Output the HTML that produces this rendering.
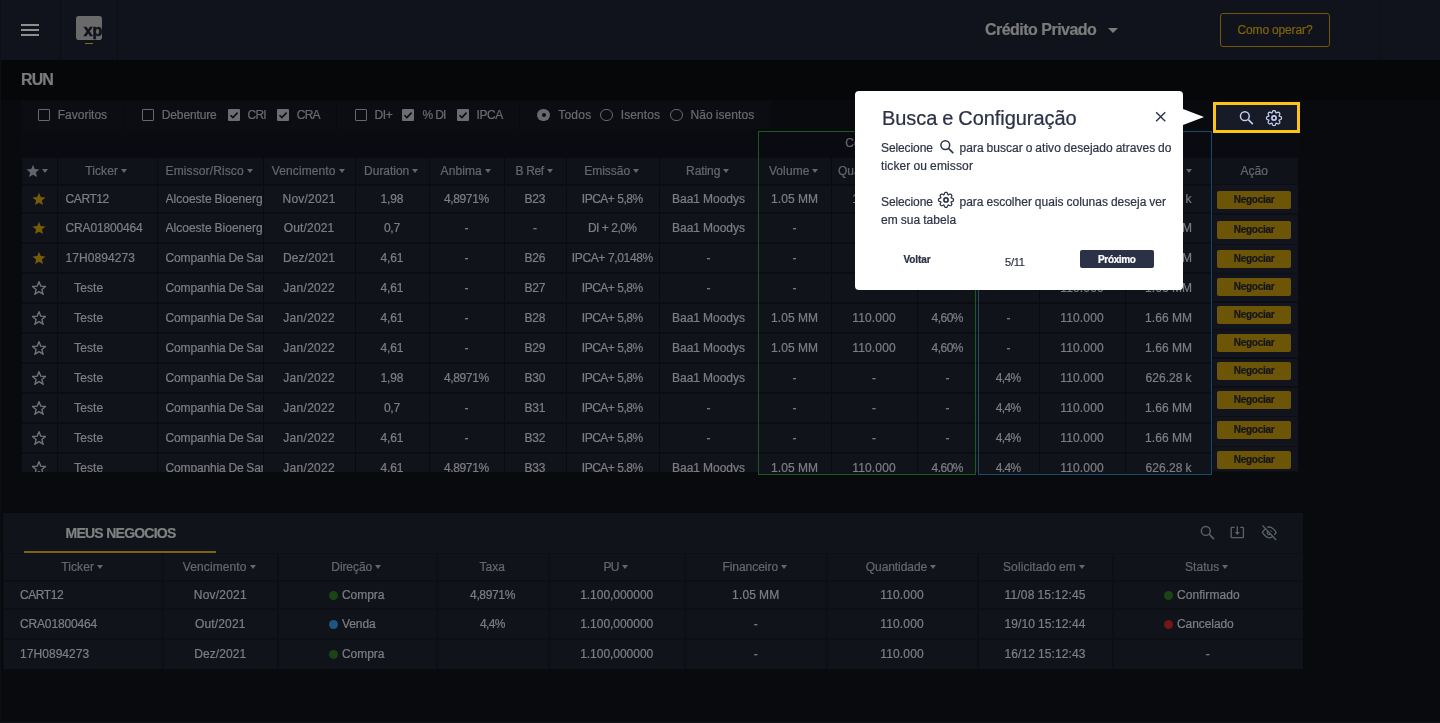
<!DOCTYPE html>
<html lang="pt-BR"><head><meta charset="utf-8"><title>RUN - Crédito Privado</title><style>
html,body{margin:0;padding:0}
body{width:1440px;height:723px;overflow:hidden;position:relative;background:#090a0d;font-family:"Liberation Sans",sans-serif;}
.b{position:absolute;display:block}
.t{position:absolute;white-space:nowrap;overflow:visible;-webkit-text-stroke:0.22px currentColor}
</style></head><body>
<div class="b" style="left:0px;top:0px;width:1440px;height:60px;background:#10131b;"></div>
<div class="b" style="left:60px;top:0px;width:1px;height:60px;background:#0c0e14;"></div>
<div class="b" style="left:117px;top:0px;width:1px;height:60px;background:#0c0e14;"></div>
<div class="b" style="left:1379px;top:0px;width:1px;height:60px;background:#0d0f15;"></div>
<div class="b" style="left:21px;top:24px;width:18px;height:2px;background:#8f8f8f;"></div>
<div class="b" style="left:21px;top:29px;width:18px;height:2px;background:#8f8f8f;"></div>
<div class="b" style="left:21px;top:34px;width:18px;height:2px;background:#8f8f8f;"></div>
<div class="b" style="left:76.2px;top:15.8px;width:25.7px;height:24.3px;background:#6a6a6a;border-radius:2.8px;overflow:hidden;"></div>
<div class="t" style="left:83.8px;top:20.9px;height:20px;line-height:20px;font-size:16px;font-weight:700;letter-spacing:-0.2px;color:#10131b;-webkit-text-stroke:0.6px #10131b;">xp</div>
<div class="b" style="left:85px;top:43px;width:7.5px;height:1.1px;background:#8a6a0a;"></div>
<div class="t " style="left:985px;top:18px;width:120px;height:24px;line-height:24px;font-size:16px;color:#7c7c7c;letter-spacing:-0.525px;word-spacing:0.064px;text-align:left;font-weight:700;">Crédito Privado</div>
<div class="b" style="left:1108.2px;top:27.8px;border-left:5px solid transparent;border-right:5px solid transparent;border-top:5.2px solid #7c7c7c;width:0;height:0"></div>
<div class="b" style="left:1220px;top:13px;width:110px;height:34px;background:transparent;border:1.4px solid #70570a;border-radius:3px;box-sizing:border-box;"></div>
<div class="t " style="left:1220px;top:13px;width:110px;height:34px;line-height:34px;font-size:12px;color:#7f6309;letter-spacing:-0.119px;word-spacing:-0.239px;text-align:center;text-indent:-0.119px;">Como operar?</div>
<div class="b" style="left:0px;top:60px;width:1440px;height:40px;background:#060709;"></div>
<div class="t " style="left:21px;top:68px;width:60px;height:24px;line-height:24px;font-size:16px;color:#7c7c7c;letter-spacing:-0.872px;word-spacing:0.000px;text-align:left;font-weight:700;">RUN</div>
<div class="b" style="left:22px;top:101px;width:749.5px;height:27.5px;background:#0b0d12;"></div>
<div class="b" style="left:123px;top:101px;width:1px;height:27.5px;background:#090a0f;"></div>
<div class="b" style="left:336px;top:101px;width:1px;height:27.5px;background:#090a0f;"></div>
<div class="b" style="left:519px;top:101px;width:1px;height:27.5px;background:#090a0f;"></div>
<div class="b" style="left:771px;top:101px;width:1px;height:27.5px;background:#090a0f;"></div>
<div class="b" style="left:37.5px;top:109px;width:12px;height:12px;background:transparent;border:1.5px solid #67686c;border-radius:1px;box-sizing:border-box;"></div>
<div class="t " style="left:57.8px;top:103px;width:60px;height:24px;line-height:24px;font-size:12px;color:#696a6e;letter-spacing:-0.009px;word-spacing:0.000px;text-align:left;">Favoritos</div>
<div class="b" style="left:141.5px;top:109px;width:12px;height:12px;background:transparent;border:1.5px solid #67686c;border-radius:1px;box-sizing:border-box;"></div>
<div class="t " style="left:161.8px;top:103px;width:70px;height:24px;line-height:24px;font-size:12px;color:#696a6e;letter-spacing:-0.135px;word-spacing:0.000px;text-align:left;">Debenture</div>
<svg class="b" style="left:227.5px;top:109px" width="12" height="12" viewBox="0 0 12 12"><rect width="12" height="12" rx="1" fill="#6c6d70"/><path d="M2.5 6.2 L4.9 8.6 L9.6 3.6" fill="none" stroke="#0b0d12" stroke-width="1.6"/></svg>
<div class="t " style="left:247.5px;top:103px;width:30px;height:24px;line-height:24px;font-size:12px;color:#696a6e;letter-spacing:-0.733px;word-spacing:0.000px;text-align:left;">CRI</div>
<svg class="b" style="left:276.5px;top:109px" width="12" height="12" viewBox="0 0 12 12"><rect width="12" height="12" rx="1" fill="#6c6d70"/><path d="M2.5 6.2 L4.9 8.6 L9.6 3.6" fill="none" stroke="#0b0d12" stroke-width="1.6"/></svg>
<div class="t " style="left:296.8px;top:103px;width:30px;height:24px;line-height:24px;font-size:12px;color:#696a6e;letter-spacing:-0.768px;word-spacing:0.000px;text-align:left;">CRA</div>
<div class="b" style="left:354.5px;top:109px;width:12px;height:12px;background:transparent;border:1.5px solid #67686c;border-radius:1px;box-sizing:border-box;"></div>
<div class="t " style="left:374.5px;top:103px;width:30px;height:24px;line-height:24px;font-size:12px;color:#696a6e;letter-spacing:-0.354px;word-spacing:0.000px;text-align:left;">DI+</div>
<svg class="b" style="left:402.3px;top:109px" width="12" height="12" viewBox="0 0 12 12"><rect width="12" height="12" rx="1" fill="#6c6d70"/><path d="M2.5 6.2 L4.9 8.6 L9.6 3.6" fill="none" stroke="#0b0d12" stroke-width="1.6"/></svg>
<div class="t " style="left:422.5px;top:103px;width:30px;height:24px;line-height:24px;font-size:12px;color:#696a6e;letter-spacing:-0.914px;word-spacing:0.557px;text-align:left;">% DI</div>
<svg class="b" style="left:456.5px;top:109px" width="12" height="12" viewBox="0 0 12 12"><rect width="12" height="12" rx="1" fill="#6c6d70"/><path d="M2.5 6.2 L4.9 8.6 L9.6 3.6" fill="none" stroke="#0b0d12" stroke-width="1.6"/></svg>
<div class="t " style="left:476.5px;top:103px;width:40px;height:24px;line-height:24px;font-size:12px;color:#696a6e;letter-spacing:-0.384px;word-spacing:0.000px;text-align:left;">IPCA</div>
<div class="b" style="left:537.4px;top:108.8px;width:12.5px;height:12.5px;background:#68696d;border-radius:50%;"></div>
<div class="b" style="left:541.55px;top:112.95px;width:4.2px;height:4.2px;background:#0b0d12;border-radius:50%;"></div>
<div class="t " style="left:558.2px;top:103px;width:40px;height:24px;line-height:24px;font-size:12px;color:#696a6e;letter-spacing:0.241px;word-spacing:0.000px;text-align:left;">Todos</div>
<div class="b" style="left:600.4px;top:108.8px;width:12.5px;height:12.5px;background:transparent;border:1.3px solid #68696d;border-radius:50%;box-sizing:border-box;"></div>
<div class="t " style="left:620.8px;top:103px;width:50px;height:24px;line-height:24px;font-size:12px;color:#696a6e;letter-spacing:0.086px;word-spacing:0.000px;text-align:left;">Isentos</div>
<div class="b" style="left:670.4px;top:108.8px;width:12.5px;height:12.5px;background:transparent;border:1.3px solid #68696d;border-radius:50%;box-sizing:border-box;"></div>
<div class="t " style="left:690.5px;top:103px;width:80px;height:24px;line-height:24px;font-size:12px;color:#696a6e;letter-spacing:0.084px;word-spacing:-0.442px;text-align:left;">Não isentos</div>
<div class="b" style="left:22px;top:128.5px;width:1190px;height:29px;background:#0a0b10;"></div>
<div class="t " style="left:758px;top:131px;width:217px;height:24px;line-height:24px;font-size:12px;color:#65676c;letter-spacing:-0.068px;word-spacing:0.000px;text-align:center;text-indent:-0.068px;">Compra</div>
<div class="t " style="left:978px;top:131px;width:234px;height:24px;line-height:24px;font-size:12px;color:#65676c;letter-spacing:-0.074px;word-spacing:0.000px;text-align:center;text-indent:-0.074px;">Venda</div>
<div class="b" style="left:22px;top:157.5px;width:1190px;height:314.7px;background:#10131a;overflow:hidden">
<div class="b" style="left:0;top:0;width:1190px;height:26.5px;background:#0f1219"></div>
<div class="b" style="left:35px;top:0;width:1px;height:400px;background:#0a0b10"></div>
<div class="b" style="left:135px;top:0;width:1px;height:400px;background:#0a0b10"></div>
<div class="b" style="left:241px;top:0;width:1px;height:400px;background:#0a0b10"></div>
<div class="b" style="left:333px;top:0;width:1px;height:400px;background:#0a0b10"></div>
<div class="b" style="left:407px;top:0;width:1px;height:400px;background:#0a0b10"></div>
<div class="b" style="left:482px;top:0;width:1px;height:400px;background:#0a0b10"></div>
<div class="b" style="left:544px;top:0;width:1px;height:400px;background:#0a0b10"></div>
<div class="b" style="left:637px;top:0;width:1px;height:400px;background:#0a0b10"></div>
<div class="b" style="left:736px;top:0;width:1px;height:400px;background:#0a0b10"></div>
<div class="b" style="left:809px;top:0;width:1px;height:400px;background:#0a0b10"></div>
<div class="b" style="left:895px;top:0;width:1px;height:400px;background:#0a0b10"></div>
<div class="b" style="left:956px;top:0;width:1px;height:400px;background:#0a0b10"></div>
<div class="b" style="left:1017px;top:0;width:1px;height:400px;background:#0a0b10"></div>
<div class="b" style="left:1103px;top:0;width:1px;height:400px;background:#0a0b10"></div>
<div class="b" style="left:0;top:26.5px;width:1190px;height:2px;background:#0b0d12"></div>
<div class="b" style="left:0;top:54.5px;width:1190px;height:2px;background:#0b0d12"></div>
<div class="b" style="left:0;top:84.5px;width:1190px;height:2px;background:#0b0d12"></div>
<div class="b" style="left:0;top:114.5px;width:1190px;height:2px;background:#0b0d12"></div>
<div class="b" style="left:0;top:144.5px;width:1190px;height:2px;background:#0b0d12"></div>
<div class="b" style="left:0;top:174.5px;width:1190px;height:2px;background:#0b0d12"></div>
<div class="b" style="left:0;top:204.5px;width:1190px;height:2px;background:#0b0d12"></div>
<div class="b" style="left:0;top:234.5px;width:1190px;height:2px;background:#0b0d12"></div>
<div class="b" style="left:0;top:264.5px;width:1190px;height:2px;background:#0b0d12"></div>
<div class="b" style="left:0;top:294.5px;width:1190px;height:2px;background:#0b0d12"></div>
</div>
<div class="t " style="left:85.3px;top:159px;width:36.75390625px;height:24px;line-height:24px;font-size:12px;color:#65676c;letter-spacing:0.089px;word-spacing:0.000px;text-align:left;">Ticker</div>
<div class="b" style="left:121.0px;top:169.3px;border-left:3.9px solid transparent;border-right:3.9px solid transparent;border-top:4.1px solid #65676c;width:0;height:0"></div>
<div class="t " style="left:165.6px;top:159px;width:82.1421875px;height:24px;line-height:24px;font-size:12px;color:#65676c;letter-spacing:0.113px;word-spacing:0.000px;text-align:left;">Emissor/Risco</div>
<div class="b" style="left:246.7px;top:169.3px;border-left:3.9px solid transparent;border-right:3.9px solid transparent;border-top:4.1px solid #65676c;width:0;height:0"></div>
<div class="t " style="left:271.8px;top:159px;width:67.7390625px;height:24px;line-height:24px;font-size:12px;color:#65676c;letter-spacing:0.103px;word-spacing:0.000px;text-align:left;">Vencimento</div>
<div class="b" style="left:338.5px;top:169.3px;border-left:3.9px solid transparent;border-right:3.9px solid transparent;border-top:4.1px solid #65676c;width:0;height:0"></div>
<div class="t " style="left:364.1px;top:159px;width:49.16484375px;height:24px;line-height:24px;font-size:12px;color:#65676c;letter-spacing:-0.024px;word-spacing:0.000px;text-align:left;">Duration</div>
<div class="b" style="left:412.2px;top:169.3px;border-left:3.9px solid transparent;border-right:3.9px solid transparent;border-top:4.1px solid #65676c;width:0;height:0"></div>
<div class="t " style="left:440.6px;top:159px;width:45.1625px;height:24px;line-height:24px;font-size:12px;color:#65676c;letter-spacing:0.079px;word-spacing:0.000px;text-align:left;">Anbima</div>
<div class="b" style="left:484.7px;top:169.3px;border-left:3.9px solid transparent;border-right:3.9px solid transparent;border-top:4.1px solid #65676c;width:0;height:0"></div>
<div class="t " style="left:515.5px;top:159px;width:32.3828125px;height:24px;line-height:24px;font-size:12px;color:#65676c;letter-spacing:-0.318px;word-spacing:-0.040px;text-align:left;">B Ref</div>
<div class="b" style="left:546.8px;top:169.3px;border-left:3.9px solid transparent;border-right:3.9px solid transparent;border-top:4.1px solid #65676c;width:0;height:0"></div>
<div class="t " style="left:584.2px;top:159px;width:50.0203125px;height:24px;line-height:24px;font-size:12px;color:#65676c;letter-spacing:0.001px;word-spacing:0.000px;text-align:left;">Emissão</div>
<div class="b" style="left:633.1px;top:169.3px;border-left:3.9px solid transparent;border-right:3.9px solid transparent;border-top:4.1px solid #65676c;width:0;height:0"></div>
<div class="t " style="left:686.1px;top:159px;width:38.13125px;height:24px;line-height:24px;font-size:12px;color:#65676c;letter-spacing:-0.093px;word-spacing:0.000px;text-align:left;">Rating</div>
<div class="b" style="left:723.2px;top:169.3px;border-left:3.9px solid transparent;border-right:3.9px solid transparent;border-top:4.1px solid #65676c;width:0;height:0"></div>
<div class="t " style="left:768.9px;top:159px;width:44.63515625px;height:24px;line-height:24px;font-size:12px;color:#65676c;letter-spacing:0.101px;word-spacing:0.000px;text-align:left;">Volume</div>
<div class="b" style="left:812.4px;top:169.3px;border-left:3.9px solid transparent;border-right:3.9px solid transparent;border-top:4.1px solid #65676c;width:0;height:0"></div>
<div class="t " style="left:838.1px;top:159px;width:65.296875px;height:24px;line-height:24px;font-size:12px;color:#65676c;letter-spacing:-0.076px;word-spacing:0.000px;text-align:left;">Quantidade</div>
<div class="b" style="left:902.2px;top:169.3px;border-left:3.9px solid transparent;border-right:3.9px solid transparent;border-top:4.1px solid #65676c;width:0;height:0"></div>
<div class="t " style="left:929.4px;top:159px;width:29.50625px;height:24px;line-height:24px;font-size:12px;color:#65676c;letter-spacing:0.039px;word-spacing:0.000px;text-align:left;">Taxa</div>
<div class="b" style="left:957.9px;top:169.3px;border-left:3.9px solid transparent;border-right:3.9px solid transparent;border-top:4.1px solid #65676c;width:0;height:0"></div>
<div class="t " style="left:990.4px;top:159px;width:29.50625px;height:24px;line-height:24px;font-size:12px;color:#65676c;letter-spacing:0.039px;word-spacing:0.000px;text-align:left;">Taxa</div>
<div class="b" style="left:1018.9px;top:169.3px;border-left:3.9px solid transparent;border-right:3.9px solid transparent;border-top:4.1px solid #65676c;width:0;height:0"></div>
<div class="t " style="left:1046.1px;top:159px;width:65.296875px;height:24px;line-height:24px;font-size:12px;color:#65676c;letter-spacing:-0.076px;word-spacing:0.000px;text-align:left;">Quantidade</div>
<div class="b" style="left:1110.2px;top:169.3px;border-left:3.9px solid transparent;border-right:3.9px solid transparent;border-top:4.1px solid #65676c;width:0;height:0"></div>
<div class="t " style="left:1142.9px;top:159px;width:44.63515625px;height:24px;line-height:24px;font-size:12px;color:#65676c;letter-spacing:0.101px;word-spacing:0.000px;text-align:left;">Volume</div>
<div class="b" style="left:1186.4px;top:169.3px;border-left:3.9px solid transparent;border-right:3.9px solid transparent;border-top:4.1px solid #65676c;width:0;height:0"></div>
<svg class="b" style="left:25.9px;top:164.39999999999998px" width="14.0" height="14.0" viewBox="-0.3 -0.3 12.6 12.6"><path d="M6 0.4 L7.6 4.3 L11.8 4.6 L8.6 7.4 L9.6 11.5 L6 9.3 L2.4 11.5 L3.4 7.4 L0.2 4.6 L4.4 4.3 Z" fill="#626468"/></svg>
<div class="b" style="left:42.0px;top:169.3px;border-left:3.9px solid transparent;border-right:3.9px solid transparent;border-top:4.1px solid #65676c;width:0;height:0"></div>
<div class="b" style="left:0;top:0;width:1440px;height:472.4px;overflow:hidden">
<svg class="b" style="left:31.599999999999998px;top:191.89999999999998px" width="14.0" height="14.0" viewBox="-0.3 -0.3 12.6 12.6"><path d="M6 0.4 L7.6 4.3 L11.8 4.6 L8.6 7.4 L9.6 11.5 L6 9.3 L2.4 11.5 L3.4 7.4 L0.2 4.6 L4.4 4.3 Z" fill="#765b07"/></svg>
<div class="t " style="left:65.6px;top:187px;width:91px;height:24px;line-height:24px;font-size:12px;color:#7d7e82;letter-spacing:-0.431px;word-spacing:0.000px;text-align:left;">CART12</div>
<div class="t " style="left:165.6px;top:187px;width:97px;height:24px;line-height:24px;font-size:12px;color:#7d7e82;letter-spacing:-0.004px;word-spacing:-0.354px;text-align:left;overflow:hidden;white-space:nowrap;">Alcoeste Bioenerg</div>
<div class="t " style="left:263px;top:187px;width:92px;height:24px;line-height:24px;font-size:12px;color:#7d7e82;letter-spacing:0.211px;word-spacing:0.000px;text-align:center;text-indent:0.211px;">Nov/2021</div>
<div class="t " style="left:355px;top:187px;width:74px;height:24px;line-height:24px;font-size:12px;color:#7d7e82;letter-spacing:-0.190px;word-spacing:0.000px;text-align:center;text-indent:-0.190px;">1,98</div>
<div class="t " style="left:429px;top:187px;width:75px;height:24px;line-height:24px;font-size:12px;color:#7d7e82;letter-spacing:-0.357px;word-spacing:0.000px;text-align:center;text-indent:-0.357px;">4,8971%</div>
<div class="t " style="left:504px;top:187px;width:62px;height:24px;line-height:24px;font-size:12px;color:#7d7e82;letter-spacing:-0.129px;word-spacing:0.000px;text-align:center;text-indent:-0.129px;">B23</div>
<div class="t " style="left:566px;top:187px;width:93px;height:24px;line-height:24px;font-size:12px;color:#7d7e82;letter-spacing:-0.494px;word-spacing:0.136px;text-align:center;text-indent:-0.494px;">IPCA+ 5,8%</div>
<div class="t " style="left:659px;top:187px;width:99px;height:24px;line-height:24px;font-size:12px;color:#7d7e82;letter-spacing:0.003px;word-spacing:-0.361px;text-align:center;text-indent:0.003px;">Baa1 Moodys</div>
<div class="t " style="left:758px;top:187px;width:73px;height:24px;line-height:24px;font-size:12px;color:#7d7e82;letter-spacing:0.167px;word-spacing:-0.525px;text-align:center;text-indent:0.167px;">1.05 MM</div>
<div class="t " style="left:831px;top:187px;width:86px;height:24px;line-height:24px;font-size:12px;color:#7d7e82;letter-spacing:0.163px;word-spacing:0.000px;text-align:center;text-indent:0.163px;">110.000</div>
<div class="t " style="left:917px;top:187px;width:61px;height:24px;line-height:24px;font-size:12px;color:#7d7e82;letter-spacing:-0.529px;word-spacing:0.000px;text-align:center;text-indent:-0.529px;">4,60%</div>
<div class="t " style="left:978px;top:187px;width:61px;height:24px;line-height:24px;font-size:12px;color:#7d7e82;letter-spacing:-0.678px;word-spacing:0.000px;text-align:center;text-indent:-0.678px;">4,4%</div>
<div class="t " style="left:1039px;top:187px;width:86px;height:24px;line-height:24px;font-size:12px;color:#7d7e82;letter-spacing:0.163px;word-spacing:0.000px;text-align:center;text-indent:0.163px;">110.000</div>
<div class="t " style="left:1125px;top:187px;width:87px;height:24px;line-height:24px;font-size:12px;color:#7d7e82;letter-spacing:0.038px;word-spacing:-0.395px;text-align:center;text-indent:0.038px;">626.28 k</div>
<svg class="b" style="left:31.599999999999998px;top:220.89999999999998px" width="14.0" height="14.0" viewBox="-0.3 -0.3 12.6 12.6"><path d="M6 0.4 L7.6 4.3 L11.8 4.6 L8.6 7.4 L9.6 11.5 L6 9.3 L2.4 11.5 L3.4 7.4 L0.2 4.6 L4.4 4.3 Z" fill="#765b07"/></svg>
<div class="t " style="left:65.6px;top:216px;width:91px;height:24px;line-height:24px;font-size:12px;color:#7d7e82;letter-spacing:-0.158px;word-spacing:0.000px;text-align:left;">CRA01800464</div>
<div class="t " style="left:165.6px;top:216px;width:97px;height:24px;line-height:24px;font-size:12px;color:#7d7e82;letter-spacing:-0.004px;word-spacing:-0.354px;text-align:left;overflow:hidden;white-space:nowrap;">Alcoeste Bioenerg</div>
<div class="t " style="left:263px;top:216px;width:92px;height:24px;line-height:24px;font-size:12px;color:#7d7e82;letter-spacing:0.169px;word-spacing:0.000px;text-align:center;text-indent:0.169px;">Out/2021</div>
<div class="t " style="left:355px;top:216px;width:74px;height:24px;line-height:24px;font-size:12px;color:#7d7e82;letter-spacing:-0.277px;word-spacing:0.000px;text-align:center;text-indent:-0.277px;">0,7</div>
<div class="t " style="left:429px;top:216px;width:75px;height:24px;line-height:24px;font-size:12px;color:#7d7e82;letter-spacing:-0.680px;word-spacing:0.000px;text-align:center;text-indent:-0.680px;">-</div>
<div class="t " style="left:504px;top:216px;width:62px;height:24px;line-height:24px;font-size:12px;color:#7d7e82;letter-spacing:-0.680px;word-spacing:0.000px;text-align:center;text-indent:-0.680px;">-</div>
<div class="t " style="left:566px;top:216px;width:93px;height:24px;line-height:24px;font-size:12px;color:#7d7e82;letter-spacing:-0.539px;word-spacing:0.181px;text-align:center;text-indent:-0.539px;">DI + 2,0%</div>
<div class="t " style="left:659px;top:216px;width:99px;height:24px;line-height:24px;font-size:12px;color:#7d7e82;letter-spacing:0.003px;word-spacing:-0.361px;text-align:center;text-indent:0.003px;">Baa1 Moodys</div>
<div class="t " style="left:758px;top:216px;width:73px;height:24px;line-height:24px;font-size:12px;color:#7d7e82;letter-spacing:-0.680px;word-spacing:0.000px;text-align:center;text-indent:-0.680px;">-</div>
<div class="t " style="left:831px;top:216px;width:86px;height:24px;line-height:24px;font-size:12px;color:#7d7e82;letter-spacing:-0.680px;word-spacing:0.000px;text-align:center;text-indent:-0.680px;">-</div>
<div class="t " style="left:917px;top:216px;width:61px;height:24px;line-height:24px;font-size:12px;color:#7d7e82;letter-spacing:-0.680px;word-spacing:0.000px;text-align:center;text-indent:-0.680px;">-</div>
<div class="t " style="left:978px;top:216px;width:61px;height:24px;line-height:24px;font-size:12px;color:#7d7e82;letter-spacing:-0.678px;word-spacing:0.000px;text-align:center;text-indent:-0.678px;">4,4%</div>
<div class="t " style="left:1039px;top:216px;width:86px;height:24px;line-height:24px;font-size:12px;color:#7d7e82;letter-spacing:0.163px;word-spacing:0.000px;text-align:center;text-indent:0.163px;">110.000</div>
<div class="t " style="left:1125px;top:216px;width:87px;height:24px;line-height:24px;font-size:12px;color:#7d7e82;letter-spacing:0.167px;word-spacing:-0.525px;text-align:center;text-indent:0.167px;">1.66 MM</div>
<svg class="b" style="left:31.599999999999998px;top:250.89999999999998px" width="14.0" height="14.0" viewBox="-0.3 -0.3 12.6 12.6"><path d="M6 0.4 L7.6 4.3 L11.8 4.6 L8.6 7.4 L9.6 11.5 L6 9.3 L2.4 11.5 L3.4 7.4 L0.2 4.6 L4.4 4.3 Z" fill="#765b07"/></svg>
<div class="t " style="left:65.6px;top:246px;width:91px;height:24px;line-height:24px;font-size:12px;color:#7d7e82;letter-spacing:0.053px;word-spacing:0.000px;text-align:left;">17H0894273</div>
<div class="t " style="left:165.6px;top:246px;width:97px;height:24px;line-height:24px;font-size:12px;color:#7d7e82;letter-spacing:-0.173px;word-spacing:-0.185px;text-align:left;overflow:hidden;white-space:nowrap;">Companhia De San</div>
<div class="t " style="left:263px;top:246px;width:92px;height:24px;line-height:24px;font-size:12px;color:#7d7e82;letter-spacing:0.094px;word-spacing:0.000px;text-align:center;text-indent:0.094px;">Dez/2021</div>
<div class="t " style="left:355px;top:246px;width:74px;height:24px;line-height:24px;font-size:12px;color:#7d7e82;letter-spacing:-0.190px;word-spacing:0.000px;text-align:center;text-indent:-0.190px;">4,61</div>
<div class="t " style="left:429px;top:246px;width:75px;height:24px;line-height:24px;font-size:12px;color:#7d7e82;letter-spacing:-0.680px;word-spacing:0.000px;text-align:center;text-indent:-0.680px;">-</div>
<div class="t " style="left:504px;top:246px;width:62px;height:24px;line-height:24px;font-size:12px;color:#7d7e82;letter-spacing:-0.129px;word-spacing:0.000px;text-align:center;text-indent:-0.129px;">B26</div>
<div class="t " style="left:566px;top:246px;width:93px;height:24px;line-height:24px;font-size:12px;color:#7d7e82;letter-spacing:-0.353px;word-spacing:-0.005px;text-align:center;text-indent:-0.353px;">IPCA+ 7,0148%</div>
<div class="t " style="left:659px;top:246px;width:99px;height:24px;line-height:24px;font-size:12px;color:#7d7e82;letter-spacing:-0.680px;word-spacing:0.000px;text-align:center;text-indent:-0.680px;">-</div>
<div class="t " style="left:758px;top:246px;width:73px;height:24px;line-height:24px;font-size:12px;color:#7d7e82;letter-spacing:-0.680px;word-spacing:0.000px;text-align:center;text-indent:-0.680px;">-</div>
<div class="t " style="left:831px;top:246px;width:86px;height:24px;line-height:24px;font-size:12px;color:#7d7e82;letter-spacing:-0.680px;word-spacing:0.000px;text-align:center;text-indent:-0.680px;">-</div>
<div class="t " style="left:917px;top:246px;width:61px;height:24px;line-height:24px;font-size:12px;color:#7d7e82;letter-spacing:-0.680px;word-spacing:0.000px;text-align:center;text-indent:-0.680px;">-</div>
<div class="t " style="left:978px;top:246px;width:61px;height:24px;line-height:24px;font-size:12px;color:#7d7e82;letter-spacing:-0.678px;word-spacing:0.000px;text-align:center;text-indent:-0.678px;">4,4%</div>
<div class="t " style="left:1039px;top:246px;width:86px;height:24px;line-height:24px;font-size:12px;color:#7d7e82;letter-spacing:0.163px;word-spacing:0.000px;text-align:center;text-indent:0.163px;">110.000</div>
<div class="t " style="left:1125px;top:246px;width:87px;height:24px;line-height:24px;font-size:12px;color:#7d7e82;letter-spacing:0.167px;word-spacing:-0.525px;text-align:center;text-indent:0.167px;">1.66 MM</div>
<svg class="b" style="left:31.599999999999998px;top:280.9px" width="14.0" height="14.0" viewBox="-0.3 -0.3 12.6 12.6"><path d="M6 0.4 L7.6 4.3 L11.8 4.6 L8.6 7.4 L9.6 11.5 L6 9.3 L2.4 11.5 L3.4 7.4 L0.2 4.6 L4.4 4.3 Z" fill="none" stroke="#727376" stroke-width="1.25" stroke-linejoin="miter"/></svg>
<div class="t " style="left:74px;top:276px;width:60px;height:24px;line-height:24px;font-size:12px;color:#7d7e82;letter-spacing:0.149px;word-spacing:0.000px;text-align:left;">Teste</div>
<div class="t " style="left:165.6px;top:276px;width:97px;height:24px;line-height:24px;font-size:12px;color:#7d7e82;letter-spacing:-0.173px;word-spacing:-0.185px;text-align:left;overflow:hidden;white-space:nowrap;">Companhia De San</div>
<div class="t " style="left:263px;top:276px;width:92px;height:24px;line-height:24px;font-size:12px;color:#7d7e82;letter-spacing:0.291px;word-spacing:0.000px;text-align:center;text-indent:0.291px;">Jan/2022</div>
<div class="t " style="left:355px;top:276px;width:74px;height:24px;line-height:24px;font-size:12px;color:#7d7e82;letter-spacing:-0.190px;word-spacing:0.000px;text-align:center;text-indent:-0.190px;">4,61</div>
<div class="t " style="left:429px;top:276px;width:75px;height:24px;line-height:24px;font-size:12px;color:#7d7e82;letter-spacing:-0.680px;word-spacing:0.000px;text-align:center;text-indent:-0.680px;">-</div>
<div class="t " style="left:504px;top:276px;width:62px;height:24px;line-height:24px;font-size:12px;color:#7d7e82;letter-spacing:-0.129px;word-spacing:0.000px;text-align:center;text-indent:-0.129px;">B27</div>
<div class="t " style="left:566px;top:276px;width:93px;height:24px;line-height:24px;font-size:12px;color:#7d7e82;letter-spacing:-0.494px;word-spacing:0.136px;text-align:center;text-indent:-0.494px;">IPCA+ 5,8%</div>
<div class="t " style="left:659px;top:276px;width:99px;height:24px;line-height:24px;font-size:12px;color:#7d7e82;letter-spacing:-0.680px;word-spacing:0.000px;text-align:center;text-indent:-0.680px;">-</div>
<div class="t " style="left:758px;top:276px;width:73px;height:24px;line-height:24px;font-size:12px;color:#7d7e82;letter-spacing:-0.680px;word-spacing:0.000px;text-align:center;text-indent:-0.680px;">-</div>
<div class="t " style="left:831px;top:276px;width:86px;height:24px;line-height:24px;font-size:12px;color:#7d7e82;letter-spacing:-0.680px;word-spacing:0.000px;text-align:center;text-indent:-0.680px;">-</div>
<div class="t " style="left:917px;top:276px;width:61px;height:24px;line-height:24px;font-size:12px;color:#7d7e82;letter-spacing:-0.680px;word-spacing:0.000px;text-align:center;text-indent:-0.680px;">-</div>
<div class="t " style="left:978px;top:276px;width:61px;height:24px;line-height:24px;font-size:12px;color:#7d7e82;letter-spacing:-0.680px;word-spacing:0.000px;text-align:center;text-indent:-0.680px;">-</div>
<div class="t " style="left:1039px;top:276px;width:86px;height:24px;line-height:24px;font-size:12px;color:#7d7e82;letter-spacing:0.163px;word-spacing:0.000px;text-align:center;text-indent:0.163px;">110.000</div>
<div class="t " style="left:1125px;top:276px;width:87px;height:24px;line-height:24px;font-size:12px;color:#7d7e82;letter-spacing:0.167px;word-spacing:-0.525px;text-align:center;text-indent:0.167px;">1.66 MM</div>
<svg class="b" style="left:31.599999999999998px;top:310.9px" width="14.0" height="14.0" viewBox="-0.3 -0.3 12.6 12.6"><path d="M6 0.4 L7.6 4.3 L11.8 4.6 L8.6 7.4 L9.6 11.5 L6 9.3 L2.4 11.5 L3.4 7.4 L0.2 4.6 L4.4 4.3 Z" fill="none" stroke="#727376" stroke-width="1.25" stroke-linejoin="miter"/></svg>
<div class="t " style="left:74px;top:306px;width:60px;height:24px;line-height:24px;font-size:12px;color:#7d7e82;letter-spacing:0.149px;word-spacing:0.000px;text-align:left;">Teste</div>
<div class="t " style="left:165.6px;top:306px;width:97px;height:24px;line-height:24px;font-size:12px;color:#7d7e82;letter-spacing:-0.173px;word-spacing:-0.185px;text-align:left;overflow:hidden;white-space:nowrap;">Companhia De San</div>
<div class="t " style="left:263px;top:306px;width:92px;height:24px;line-height:24px;font-size:12px;color:#7d7e82;letter-spacing:0.291px;word-spacing:0.000px;text-align:center;text-indent:0.291px;">Jan/2022</div>
<div class="t " style="left:355px;top:306px;width:74px;height:24px;line-height:24px;font-size:12px;color:#7d7e82;letter-spacing:-0.190px;word-spacing:0.000px;text-align:center;text-indent:-0.190px;">4,61</div>
<div class="t " style="left:429px;top:306px;width:75px;height:24px;line-height:24px;font-size:12px;color:#7d7e82;letter-spacing:-0.680px;word-spacing:0.000px;text-align:center;text-indent:-0.680px;">-</div>
<div class="t " style="left:504px;top:306px;width:62px;height:24px;line-height:24px;font-size:12px;color:#7d7e82;letter-spacing:-0.129px;word-spacing:0.000px;text-align:center;text-indent:-0.129px;">B28</div>
<div class="t " style="left:566px;top:306px;width:93px;height:24px;line-height:24px;font-size:12px;color:#7d7e82;letter-spacing:-0.494px;word-spacing:0.136px;text-align:center;text-indent:-0.494px;">IPCA+ 5,8%</div>
<div class="t " style="left:659px;top:306px;width:99px;height:24px;line-height:24px;font-size:12px;color:#7d7e82;letter-spacing:0.003px;word-spacing:-0.361px;text-align:center;text-indent:0.003px;">Baa1 Moodys</div>
<div class="t " style="left:758px;top:306px;width:73px;height:24px;line-height:24px;font-size:12px;color:#7d7e82;letter-spacing:0.167px;word-spacing:-0.525px;text-align:center;text-indent:0.167px;">1.05 MM</div>
<div class="t " style="left:831px;top:306px;width:86px;height:24px;line-height:24px;font-size:12px;color:#7d7e82;letter-spacing:0.163px;word-spacing:0.000px;text-align:center;text-indent:0.163px;">110.000</div>
<div class="t " style="left:917px;top:306px;width:61px;height:24px;line-height:24px;font-size:12px;color:#7d7e82;letter-spacing:-0.529px;word-spacing:0.000px;text-align:center;text-indent:-0.529px;">4,60%</div>
<div class="t " style="left:978px;top:306px;width:61px;height:24px;line-height:24px;font-size:12px;color:#7d7e82;letter-spacing:-0.680px;word-spacing:0.000px;text-align:center;text-indent:-0.680px;">-</div>
<div class="t " style="left:1039px;top:306px;width:86px;height:24px;line-height:24px;font-size:12px;color:#7d7e82;letter-spacing:0.163px;word-spacing:0.000px;text-align:center;text-indent:0.163px;">110.000</div>
<div class="t " style="left:1125px;top:306px;width:87px;height:24px;line-height:24px;font-size:12px;color:#7d7e82;letter-spacing:0.167px;word-spacing:-0.525px;text-align:center;text-indent:0.167px;">1.66 MM</div>
<svg class="b" style="left:31.599999999999998px;top:340.9px" width="14.0" height="14.0" viewBox="-0.3 -0.3 12.6 12.6"><path d="M6 0.4 L7.6 4.3 L11.8 4.6 L8.6 7.4 L9.6 11.5 L6 9.3 L2.4 11.5 L3.4 7.4 L0.2 4.6 L4.4 4.3 Z" fill="none" stroke="#727376" stroke-width="1.25" stroke-linejoin="miter"/></svg>
<div class="t " style="left:74px;top:336px;width:60px;height:24px;line-height:24px;font-size:12px;color:#7d7e82;letter-spacing:0.149px;word-spacing:0.000px;text-align:left;">Teste</div>
<div class="t " style="left:165.6px;top:336px;width:97px;height:24px;line-height:24px;font-size:12px;color:#7d7e82;letter-spacing:-0.173px;word-spacing:-0.185px;text-align:left;overflow:hidden;white-space:nowrap;">Companhia De San</div>
<div class="t " style="left:263px;top:336px;width:92px;height:24px;line-height:24px;font-size:12px;color:#7d7e82;letter-spacing:0.291px;word-spacing:0.000px;text-align:center;text-indent:0.291px;">Jan/2022</div>
<div class="t " style="left:355px;top:336px;width:74px;height:24px;line-height:24px;font-size:12px;color:#7d7e82;letter-spacing:-0.190px;word-spacing:0.000px;text-align:center;text-indent:-0.190px;">4,61</div>
<div class="t " style="left:429px;top:336px;width:75px;height:24px;line-height:24px;font-size:12px;color:#7d7e82;letter-spacing:-0.680px;word-spacing:0.000px;text-align:center;text-indent:-0.680px;">-</div>
<div class="t " style="left:504px;top:336px;width:62px;height:24px;line-height:24px;font-size:12px;color:#7d7e82;letter-spacing:-0.129px;word-spacing:0.000px;text-align:center;text-indent:-0.129px;">B29</div>
<div class="t " style="left:566px;top:336px;width:93px;height:24px;line-height:24px;font-size:12px;color:#7d7e82;letter-spacing:-0.494px;word-spacing:0.136px;text-align:center;text-indent:-0.494px;">IPCA+ 5,8%</div>
<div class="t " style="left:659px;top:336px;width:99px;height:24px;line-height:24px;font-size:12px;color:#7d7e82;letter-spacing:0.003px;word-spacing:-0.361px;text-align:center;text-indent:0.003px;">Baa1 Moodys</div>
<div class="t " style="left:758px;top:336px;width:73px;height:24px;line-height:24px;font-size:12px;color:#7d7e82;letter-spacing:0.167px;word-spacing:-0.525px;text-align:center;text-indent:0.167px;">1.05 MM</div>
<div class="t " style="left:831px;top:336px;width:86px;height:24px;line-height:24px;font-size:12px;color:#7d7e82;letter-spacing:0.163px;word-spacing:0.000px;text-align:center;text-indent:0.163px;">110.000</div>
<div class="t " style="left:917px;top:336px;width:61px;height:24px;line-height:24px;font-size:12px;color:#7d7e82;letter-spacing:-0.529px;word-spacing:0.000px;text-align:center;text-indent:-0.529px;">4,60%</div>
<div class="t " style="left:978px;top:336px;width:61px;height:24px;line-height:24px;font-size:12px;color:#7d7e82;letter-spacing:-0.680px;word-spacing:0.000px;text-align:center;text-indent:-0.680px;">-</div>
<div class="t " style="left:1039px;top:336px;width:86px;height:24px;line-height:24px;font-size:12px;color:#7d7e82;letter-spacing:0.163px;word-spacing:0.000px;text-align:center;text-indent:0.163px;">110.000</div>
<div class="t " style="left:1125px;top:336px;width:87px;height:24px;line-height:24px;font-size:12px;color:#7d7e82;letter-spacing:0.167px;word-spacing:-0.525px;text-align:center;text-indent:0.167px;">1.66 MM</div>
<svg class="b" style="left:31.599999999999998px;top:370.9px" width="14.0" height="14.0" viewBox="-0.3 -0.3 12.6 12.6"><path d="M6 0.4 L7.6 4.3 L11.8 4.6 L8.6 7.4 L9.6 11.5 L6 9.3 L2.4 11.5 L3.4 7.4 L0.2 4.6 L4.4 4.3 Z" fill="none" stroke="#727376" stroke-width="1.25" stroke-linejoin="miter"/></svg>
<div class="t " style="left:74px;top:366px;width:60px;height:24px;line-height:24px;font-size:12px;color:#7d7e82;letter-spacing:0.149px;word-spacing:0.000px;text-align:left;">Teste</div>
<div class="t " style="left:165.6px;top:366px;width:97px;height:24px;line-height:24px;font-size:12px;color:#7d7e82;letter-spacing:-0.173px;word-spacing:-0.185px;text-align:left;overflow:hidden;white-space:nowrap;">Companhia De San</div>
<div class="t " style="left:263px;top:366px;width:92px;height:24px;line-height:24px;font-size:12px;color:#7d7e82;letter-spacing:0.291px;word-spacing:0.000px;text-align:center;text-indent:0.291px;">Jan/2022</div>
<div class="t " style="left:355px;top:366px;width:74px;height:24px;line-height:24px;font-size:12px;color:#7d7e82;letter-spacing:-0.190px;word-spacing:0.000px;text-align:center;text-indent:-0.190px;">1,98</div>
<div class="t " style="left:429px;top:366px;width:75px;height:24px;line-height:24px;font-size:12px;color:#7d7e82;letter-spacing:-0.357px;word-spacing:0.000px;text-align:center;text-indent:-0.357px;">4,8971%</div>
<div class="t " style="left:504px;top:366px;width:62px;height:24px;line-height:24px;font-size:12px;color:#7d7e82;letter-spacing:-0.129px;word-spacing:0.000px;text-align:center;text-indent:-0.129px;">B30</div>
<div class="t " style="left:566px;top:366px;width:93px;height:24px;line-height:24px;font-size:12px;color:#7d7e82;letter-spacing:-0.494px;word-spacing:0.136px;text-align:center;text-indent:-0.494px;">IPCA+ 5,8%</div>
<div class="t " style="left:659px;top:366px;width:99px;height:24px;line-height:24px;font-size:12px;color:#7d7e82;letter-spacing:0.003px;word-spacing:-0.361px;text-align:center;text-indent:0.003px;">Baa1 Moodys</div>
<div class="t " style="left:758px;top:366px;width:73px;height:24px;line-height:24px;font-size:12px;color:#7d7e82;letter-spacing:-0.680px;word-spacing:0.000px;text-align:center;text-indent:-0.680px;">-</div>
<div class="t " style="left:831px;top:366px;width:86px;height:24px;line-height:24px;font-size:12px;color:#7d7e82;letter-spacing:-0.680px;word-spacing:0.000px;text-align:center;text-indent:-0.680px;">-</div>
<div class="t " style="left:917px;top:366px;width:61px;height:24px;line-height:24px;font-size:12px;color:#7d7e82;letter-spacing:-0.680px;word-spacing:0.000px;text-align:center;text-indent:-0.680px;">-</div>
<div class="t " style="left:978px;top:366px;width:61px;height:24px;line-height:24px;font-size:12px;color:#7d7e82;letter-spacing:-0.678px;word-spacing:0.000px;text-align:center;text-indent:-0.678px;">4,4%</div>
<div class="t " style="left:1039px;top:366px;width:86px;height:24px;line-height:24px;font-size:12px;color:#7d7e82;letter-spacing:0.163px;word-spacing:0.000px;text-align:center;text-indent:0.163px;">110.000</div>
<div class="t " style="left:1125px;top:366px;width:87px;height:24px;line-height:24px;font-size:12px;color:#7d7e82;letter-spacing:0.038px;word-spacing:-0.395px;text-align:center;text-indent:0.038px;">626.28 k</div>
<svg class="b" style="left:31.599999999999998px;top:400.9px" width="14.0" height="14.0" viewBox="-0.3 -0.3 12.6 12.6"><path d="M6 0.4 L7.6 4.3 L11.8 4.6 L8.6 7.4 L9.6 11.5 L6 9.3 L2.4 11.5 L3.4 7.4 L0.2 4.6 L4.4 4.3 Z" fill="none" stroke="#727376" stroke-width="1.25" stroke-linejoin="miter"/></svg>
<div class="t " style="left:74px;top:396px;width:60px;height:24px;line-height:24px;font-size:12px;color:#7d7e82;letter-spacing:0.149px;word-spacing:0.000px;text-align:left;">Teste</div>
<div class="t " style="left:165.6px;top:396px;width:97px;height:24px;line-height:24px;font-size:12px;color:#7d7e82;letter-spacing:-0.173px;word-spacing:-0.185px;text-align:left;overflow:hidden;white-space:nowrap;">Companhia De San</div>
<div class="t " style="left:263px;top:396px;width:92px;height:24px;line-height:24px;font-size:12px;color:#7d7e82;letter-spacing:0.291px;word-spacing:0.000px;text-align:center;text-indent:0.291px;">Jan/2022</div>
<div class="t " style="left:355px;top:396px;width:74px;height:24px;line-height:24px;font-size:12px;color:#7d7e82;letter-spacing:-0.277px;word-spacing:0.000px;text-align:center;text-indent:-0.277px;">0,7</div>
<div class="t " style="left:429px;top:396px;width:75px;height:24px;line-height:24px;font-size:12px;color:#7d7e82;letter-spacing:-0.680px;word-spacing:0.000px;text-align:center;text-indent:-0.680px;">-</div>
<div class="t " style="left:504px;top:396px;width:62px;height:24px;line-height:24px;font-size:12px;color:#7d7e82;letter-spacing:-0.129px;word-spacing:0.000px;text-align:center;text-indent:-0.129px;">B31</div>
<div class="t " style="left:566px;top:396px;width:93px;height:24px;line-height:24px;font-size:12px;color:#7d7e82;letter-spacing:-0.494px;word-spacing:0.136px;text-align:center;text-indent:-0.494px;">IPCA+ 5,8%</div>
<div class="t " style="left:659px;top:396px;width:99px;height:24px;line-height:24px;font-size:12px;color:#7d7e82;letter-spacing:-0.680px;word-spacing:0.000px;text-align:center;text-indent:-0.680px;">-</div>
<div class="t " style="left:758px;top:396px;width:73px;height:24px;line-height:24px;font-size:12px;color:#7d7e82;letter-spacing:-0.680px;word-spacing:0.000px;text-align:center;text-indent:-0.680px;">-</div>
<div class="t " style="left:831px;top:396px;width:86px;height:24px;line-height:24px;font-size:12px;color:#7d7e82;letter-spacing:-0.680px;word-spacing:0.000px;text-align:center;text-indent:-0.680px;">-</div>
<div class="t " style="left:917px;top:396px;width:61px;height:24px;line-height:24px;font-size:12px;color:#7d7e82;letter-spacing:-0.680px;word-spacing:0.000px;text-align:center;text-indent:-0.680px;">-</div>
<div class="t " style="left:978px;top:396px;width:61px;height:24px;line-height:24px;font-size:12px;color:#7d7e82;letter-spacing:-0.678px;word-spacing:0.000px;text-align:center;text-indent:-0.678px;">4,4%</div>
<div class="t " style="left:1039px;top:396px;width:86px;height:24px;line-height:24px;font-size:12px;color:#7d7e82;letter-spacing:0.163px;word-spacing:0.000px;text-align:center;text-indent:0.163px;">110.000</div>
<div class="t " style="left:1125px;top:396px;width:87px;height:24px;line-height:24px;font-size:12px;color:#7d7e82;letter-spacing:0.167px;word-spacing:-0.525px;text-align:center;text-indent:0.167px;">1.66 MM</div>
<svg class="b" style="left:31.599999999999998px;top:430.9px" width="14.0" height="14.0" viewBox="-0.3 -0.3 12.6 12.6"><path d="M6 0.4 L7.6 4.3 L11.8 4.6 L8.6 7.4 L9.6 11.5 L6 9.3 L2.4 11.5 L3.4 7.4 L0.2 4.6 L4.4 4.3 Z" fill="none" stroke="#727376" stroke-width="1.25" stroke-linejoin="miter"/></svg>
<div class="t " style="left:74px;top:426px;width:60px;height:24px;line-height:24px;font-size:12px;color:#7d7e82;letter-spacing:0.149px;word-spacing:0.000px;text-align:left;">Teste</div>
<div class="t " style="left:165.6px;top:426px;width:97px;height:24px;line-height:24px;font-size:12px;color:#7d7e82;letter-spacing:-0.173px;word-spacing:-0.185px;text-align:left;overflow:hidden;white-space:nowrap;">Companhia De San</div>
<div class="t " style="left:263px;top:426px;width:92px;height:24px;line-height:24px;font-size:12px;color:#7d7e82;letter-spacing:0.291px;word-spacing:0.000px;text-align:center;text-indent:0.291px;">Jan/2022</div>
<div class="t " style="left:355px;top:426px;width:74px;height:24px;line-height:24px;font-size:12px;color:#7d7e82;letter-spacing:-0.190px;word-spacing:0.000px;text-align:center;text-indent:-0.190px;">4,61</div>
<div class="t " style="left:429px;top:426px;width:75px;height:24px;line-height:24px;font-size:12px;color:#7d7e82;letter-spacing:-0.680px;word-spacing:0.000px;text-align:center;text-indent:-0.680px;">-</div>
<div class="t " style="left:504px;top:426px;width:62px;height:24px;line-height:24px;font-size:12px;color:#7d7e82;letter-spacing:-0.129px;word-spacing:0.000px;text-align:center;text-indent:-0.129px;">B32</div>
<div class="t " style="left:566px;top:426px;width:93px;height:24px;line-height:24px;font-size:12px;color:#7d7e82;letter-spacing:-0.494px;word-spacing:0.136px;text-align:center;text-indent:-0.494px;">IPCA+ 5,8%</div>
<div class="t " style="left:659px;top:426px;width:99px;height:24px;line-height:24px;font-size:12px;color:#7d7e82;letter-spacing:-0.680px;word-spacing:0.000px;text-align:center;text-indent:-0.680px;">-</div>
<div class="t " style="left:758px;top:426px;width:73px;height:24px;line-height:24px;font-size:12px;color:#7d7e82;letter-spacing:-0.680px;word-spacing:0.000px;text-align:center;text-indent:-0.680px;">-</div>
<div class="t " style="left:831px;top:426px;width:86px;height:24px;line-height:24px;font-size:12px;color:#7d7e82;letter-spacing:-0.680px;word-spacing:0.000px;text-align:center;text-indent:-0.680px;">-</div>
<div class="t " style="left:917px;top:426px;width:61px;height:24px;line-height:24px;font-size:12px;color:#7d7e82;letter-spacing:-0.680px;word-spacing:0.000px;text-align:center;text-indent:-0.680px;">-</div>
<div class="t " style="left:978px;top:426px;width:61px;height:24px;line-height:24px;font-size:12px;color:#7d7e82;letter-spacing:-0.678px;word-spacing:0.000px;text-align:center;text-indent:-0.678px;">4,4%</div>
<div class="t " style="left:1039px;top:426px;width:86px;height:24px;line-height:24px;font-size:12px;color:#7d7e82;letter-spacing:0.163px;word-spacing:0.000px;text-align:center;text-indent:0.163px;">110.000</div>
<div class="t " style="left:1125px;top:426px;width:87px;height:24px;line-height:24px;font-size:12px;color:#7d7e82;letter-spacing:0.167px;word-spacing:-0.525px;text-align:center;text-indent:0.167px;">1.66 MM</div>
<svg class="b" style="left:31.599999999999998px;top:460.9px" width="14.0" height="14.0" viewBox="-0.3 -0.3 12.6 12.6"><path d="M6 0.4 L7.6 4.3 L11.8 4.6 L8.6 7.4 L9.6 11.5 L6 9.3 L2.4 11.5 L3.4 7.4 L0.2 4.6 L4.4 4.3 Z" fill="none" stroke="#727376" stroke-width="1.25" stroke-linejoin="miter"/></svg>
<div class="t " style="left:74px;top:456px;width:60px;height:24px;line-height:24px;font-size:12px;color:#7d7e82;letter-spacing:0.149px;word-spacing:0.000px;text-align:left;">Teste</div>
<div class="t " style="left:165.6px;top:456px;width:97px;height:24px;line-height:24px;font-size:12px;color:#7d7e82;letter-spacing:-0.173px;word-spacing:-0.185px;text-align:left;overflow:hidden;white-space:nowrap;">Companhia De San</div>
<div class="t " style="left:263px;top:456px;width:92px;height:24px;line-height:24px;font-size:12px;color:#7d7e82;letter-spacing:0.291px;word-spacing:0.000px;text-align:center;text-indent:0.291px;">Jan/2022</div>
<div class="t " style="left:355px;top:456px;width:74px;height:24px;line-height:24px;font-size:12px;color:#7d7e82;letter-spacing:-0.190px;word-spacing:0.000px;text-align:center;text-indent:-0.190px;">4,61</div>
<div class="t " style="left:429px;top:456px;width:75px;height:24px;line-height:24px;font-size:12px;color:#7d7e82;letter-spacing:-0.357px;word-spacing:0.000px;text-align:center;text-indent:-0.357px;">4,8971%</div>
<div class="t " style="left:504px;top:456px;width:62px;height:24px;line-height:24px;font-size:12px;color:#7d7e82;letter-spacing:-0.129px;word-spacing:0.000px;text-align:center;text-indent:-0.129px;">B33</div>
<div class="t " style="left:566px;top:456px;width:93px;height:24px;line-height:24px;font-size:12px;color:#7d7e82;letter-spacing:-0.494px;word-spacing:0.136px;text-align:center;text-indent:-0.494px;">IPCA+ 5,8%</div>
<div class="t " style="left:659px;top:456px;width:99px;height:24px;line-height:24px;font-size:12px;color:#7d7e82;letter-spacing:0.003px;word-spacing:-0.361px;text-align:center;text-indent:0.003px;">Baa1 Moodys</div>
<div class="t " style="left:758px;top:456px;width:73px;height:24px;line-height:24px;font-size:12px;color:#7d7e82;letter-spacing:0.167px;word-spacing:-0.525px;text-align:center;text-indent:0.167px;">1.05 MM</div>
<div class="t " style="left:831px;top:456px;width:86px;height:24px;line-height:24px;font-size:12px;color:#7d7e82;letter-spacing:0.163px;word-spacing:0.000px;text-align:center;text-indent:0.163px;">110.000</div>
<div class="t " style="left:917px;top:456px;width:61px;height:24px;line-height:24px;font-size:12px;color:#7d7e82;letter-spacing:-0.529px;word-spacing:0.000px;text-align:center;text-indent:-0.529px;">4,60%</div>
<div class="t " style="left:978px;top:456px;width:61px;height:24px;line-height:24px;font-size:12px;color:#7d7e82;letter-spacing:-0.678px;word-spacing:0.000px;text-align:center;text-indent:-0.678px;">4,4%</div>
<div class="t " style="left:1039px;top:456px;width:86px;height:24px;line-height:24px;font-size:12px;color:#7d7e82;letter-spacing:0.163px;word-spacing:0.000px;text-align:center;text-indent:0.163px;">110.000</div>
<div class="t " style="left:1125px;top:456px;width:87px;height:24px;line-height:24px;font-size:12px;color:#7d7e82;letter-spacing:0.038px;word-spacing:-0.395px;text-align:center;text-indent:0.038px;">626.28 k</div>
</div>
<div class="b" style="left:758.5px;top:472px;width:216.5px;height:1.8px;background:#10131a;"></div>
<div class="b" style="left:979px;top:472px;width:232px;height:1.8px;background:#10131a;"></div>
<div class="b" style="left:757.5px;top:131px;width:218.5px;height:343.5px;background:transparent;border:1px solid #1c5a1c;box-sizing:border-box;"></div>
<div class="b" style="left:978px;top:131px;width:234px;height:343.5px;background:transparent;border:1px solid #1a4969;box-sizing:border-box;"></div>
<div class="b" style="left:1212px;top:128.5px;width:86.3px;height:29px;background:#0a0b10;"></div>
<div class="b" style="left:1212px;top:157.5px;width:86.3px;height:314px;background:#0c0e14;"></div>
<div class="b" style="left:1212.5px;top:157.5px;width:85.8px;height:26.5px;background:#0f1219;"></div>
<div class="b" style="left:1212.5px;top:185.2px;width:85.8px;height:28.3px;background:#11141c;"></div>
<div class="b" style="left:1212.5px;top:214.7px;width:85.8px;height:29.3px;background:#11141c;"></div>
<div class="b" style="left:1212.5px;top:245.2px;width:85.8px;height:27.99999999999999px;background:#11141c;"></div>
<div class="b" style="left:1212.5px;top:274.4px;width:85.8px;height:26.99999999999999px;background:#11141c;"></div>
<div class="b" style="left:1212.5px;top:302.59999999999997px;width:85.8px;height:26.400000000000023px;background:#11141c;"></div>
<div class="b" style="left:1212.5px;top:330.2px;width:85.8px;height:27.3px;background:#11141c;"></div>
<div class="b" style="left:1212.5px;top:358.7px;width:85.8px;height:27.8px;background:#11141c;"></div>
<div class="b" style="left:1212.5px;top:387.7px;width:85.8px;height:27.900000000000023px;background:#11141c;"></div>
<div class="b" style="left:1212.5px;top:416.8px;width:85.8px;height:29.199999999999978px;background:#11141c;"></div>
<div class="b" style="left:1212.5px;top:447.2px;width:85.8px;height:24.3px;background:#11141c;"></div>
<div class="t " style="left:1212px;top:159px;width:84.5px;height:24px;line-height:24px;font-size:12px;color:#65676c;letter-spacing:0.032px;word-spacing:0.000px;text-align:center;text-indent:0.032px;">Ação</div>
<div class="b" style="left:1217.2px;top:191px;width:74px;height:18px;background:#6d5508;border-radius:2px;"></div>
<div class="t " style="left:1217.2px;top:191px;width:74px;height:17.5px;line-height:17.5px;font-size:10px;color:#15161a;letter-spacing:-0.259px;word-spacing:0.000px;text-align:center;font-weight:700;text-indent:-0.259px;">Negociar</div>
<div class="b" style="left:1217.2px;top:221px;width:74px;height:18px;background:#6d5508;border-radius:2px;"></div>
<div class="t " style="left:1217.2px;top:221px;width:74px;height:17.5px;line-height:17.5px;font-size:10px;color:#15161a;letter-spacing:-0.259px;word-spacing:0.000px;text-align:center;font-weight:700;text-indent:-0.259px;">Negociar</div>
<div class="b" style="left:1217.2px;top:250px;width:74px;height:18px;background:#6d5508;border-radius:2px;"></div>
<div class="t " style="left:1217.2px;top:250px;width:74px;height:17.5px;line-height:17.5px;font-size:10px;color:#15161a;letter-spacing:-0.259px;word-spacing:0.000px;text-align:center;font-weight:700;text-indent:-0.259px;">Negociar</div>
<div class="b" style="left:1217.2px;top:278px;width:74px;height:18px;background:#6d5508;border-radius:2px;"></div>
<div class="t " style="left:1217.2px;top:278px;width:74px;height:17.5px;line-height:17.5px;font-size:10px;color:#15161a;letter-spacing:-0.259px;word-spacing:0.000px;text-align:center;font-weight:700;text-indent:-0.259px;">Negociar</div>
<div class="b" style="left:1217.2px;top:306px;width:74px;height:18px;background:#6d5508;border-radius:2px;"></div>
<div class="t " style="left:1217.2px;top:306px;width:74px;height:17.5px;line-height:17.5px;font-size:10px;color:#15161a;letter-spacing:-0.259px;word-spacing:0.000px;text-align:center;font-weight:700;text-indent:-0.259px;">Negociar</div>
<div class="b" style="left:1217.2px;top:334px;width:74px;height:18px;background:#6d5508;border-radius:2px;"></div>
<div class="t " style="left:1217.2px;top:334px;width:74px;height:17.5px;line-height:17.5px;font-size:10px;color:#15161a;letter-spacing:-0.259px;word-spacing:0.000px;text-align:center;font-weight:700;text-indent:-0.259px;">Negociar</div>
<div class="b" style="left:1217.2px;top:362px;width:74px;height:18px;background:#6d5508;border-radius:2px;"></div>
<div class="t " style="left:1217.2px;top:362px;width:74px;height:17.5px;line-height:17.5px;font-size:10px;color:#15161a;letter-spacing:-0.259px;word-spacing:0.000px;text-align:center;font-weight:700;text-indent:-0.259px;">Negociar</div>
<div class="b" style="left:1217.2px;top:391px;width:74px;height:18px;background:#6d5508;border-radius:2px;"></div>
<div class="t " style="left:1217.2px;top:391px;width:74px;height:17.5px;line-height:17.5px;font-size:10px;color:#15161a;letter-spacing:-0.259px;word-spacing:0.000px;text-align:center;font-weight:700;text-indent:-0.259px;">Negociar</div>
<div class="b" style="left:1217.2px;top:421px;width:74px;height:18px;background:#6d5508;border-radius:2px;"></div>
<div class="t " style="left:1217.2px;top:421px;width:74px;height:17.5px;line-height:17.5px;font-size:10px;color:#15161a;letter-spacing:-0.259px;word-spacing:0.000px;text-align:center;font-weight:700;text-indent:-0.259px;">Negociar</div>
<div class="b" style="left:1217.2px;top:451px;width:74px;height:18px;background:#6d5508;border-radius:2px;"></div>
<div class="t " style="left:1217.2px;top:451px;width:74px;height:17.5px;line-height:17.5px;font-size:10px;color:#15161a;letter-spacing:-0.259px;word-spacing:0.000px;text-align:center;font-weight:700;text-indent:-0.259px;">Negociar</div>
<div class="b" style="left:1212.5px;top:102.4px;width:87.2px;height:31.0px;background:#171a27;border:3.2px solid #fcc512;box-sizing:border-box;"></div>
<svg class="b" style="left:1236px;top:107px" width="22" height="22" viewBox="1236 107 22 22"><circle cx="1244.85" cy="116.2" r="4.4" fill="none" stroke="#c3cef0" stroke-width="1.5"/><path d="M1248.31 119.66 L1252.81 124.16" stroke="#c3cef0" stroke-width="1.6" fill="none"/></svg>
<svg class="b" style="left:1263px;top:107px" width="22" height="22" viewBox="1263 107 22 22"><path d="M1274.00 110.55 L1274.29 110.56 L1274.59 110.60 L1274.87 110.70 L1275.13 110.90 L1275.36 111.22 L1275.54 111.63 L1275.69 112.07 L1275.81 112.49 L1275.94 112.80 L1276.10 112.97 L1276.34 112.97 L1276.65 112.84 L1277.03 112.63 L1277.45 112.42 L1277.87 112.26 L1278.25 112.20 L1278.58 112.24 L1278.86 112.36 L1279.09 112.54 L1279.30 112.75 L1279.51 112.96 L1279.69 113.19 L1279.81 113.47 L1279.85 113.80 L1279.79 114.18 L1279.63 114.60 L1279.42 115.02 L1279.21 115.40 L1279.08 115.71 L1279.08 115.95 L1279.25 116.11 L1279.56 116.24 L1279.98 116.36 L1280.42 116.51 L1280.83 116.69 L1281.15 116.92 L1281.35 117.18 L1281.45 117.46 L1281.49 117.76 L1281.50 118.05 L1281.49 118.34 L1281.45 118.64 L1281.35 118.92 L1281.15 119.18 L1280.83 119.41 L1280.42 119.59 L1279.98 119.74 L1279.56 119.86 L1279.25 119.99 L1279.08 120.15 L1279.08 120.39 L1279.21 120.70 L1279.42 121.08 L1279.63 121.50 L1279.79 121.92 L1279.85 122.30 L1279.81 122.63 L1279.69 122.91 L1279.51 123.14 L1279.30 123.35 L1279.09 123.56 L1278.86 123.74 L1278.58 123.86 L1278.25 123.90 L1277.87 123.84 L1277.45 123.68 L1277.03 123.47 L1276.65 123.26 L1276.34 123.13 L1276.10 123.13 L1275.94 123.30 L1275.81 123.61 L1275.69 124.03 L1275.54 124.47 L1275.36 124.88 L1275.13 125.20 L1274.87 125.40 L1274.59 125.50 L1274.29 125.54 L1274.00 125.55 L1273.71 125.54 L1273.41 125.50 L1273.13 125.40 L1272.87 125.20 L1272.64 124.88 L1272.46 124.47 L1272.31 124.03 L1272.19 123.61 L1272.06 123.30 L1271.90 123.13 L1271.66 123.13 L1271.35 123.26 L1270.97 123.47 L1270.55 123.68 L1270.13 123.84 L1269.75 123.90 L1269.42 123.86 L1269.14 123.74 L1268.91 123.56 L1268.70 123.35 L1268.49 123.14 L1268.31 122.91 L1268.19 122.63 L1268.15 122.30 L1268.21 121.92 L1268.37 121.50 L1268.58 121.08 L1268.79 120.70 L1268.92 120.39 L1268.92 120.15 L1268.75 119.99 L1268.44 119.86 L1268.02 119.74 L1267.58 119.59 L1267.17 119.41 L1266.85 119.18 L1266.65 118.92 L1266.55 118.64 L1266.51 118.34 L1266.50 118.05 L1266.51 117.76 L1266.55 117.46 L1266.65 117.18 L1266.85 116.92 L1267.17 116.69 L1267.58 116.51 L1268.02 116.36 L1268.44 116.24 L1268.75 116.11 L1268.92 115.95 L1268.92 115.71 L1268.79 115.40 L1268.58 115.02 L1268.37 114.60 L1268.21 114.18 L1268.15 113.80 L1268.19 113.47 L1268.31 113.19 L1268.49 112.96 L1268.70 112.75 L1268.91 112.54 L1269.14 112.36 L1269.42 112.24 L1269.75 112.20 L1270.13 112.26 L1270.55 112.42 L1270.97 112.63 L1271.35 112.84 L1271.66 112.97 L1271.90 112.97 L1272.06 112.80 L1272.19 112.49 L1272.31 112.07 L1272.46 111.63 L1272.64 111.22 L1272.87 110.90 L1273.13 110.70 L1273.41 110.60 L1273.71 110.56 Z" fill="none" stroke="#c3cef0" stroke-width="1.25" stroke-linejoin="round"/><circle cx="1274.0" cy="118.05" r="2.1" fill="none" stroke="#c3cef0" stroke-width="1.7"/></svg>
<div class="b" style="left:855px;top:91px;width:328.2px;height:199px;background:#ffffff;border-radius:4px;"></div>
<div class="b" style="left:1183px;top:108.8px;width:0;height:0;border-top:8.1px solid transparent;border-bottom:8.1px solid transparent;border-left:21px solid #fff"></div>
<div class="t " style="left:882px;top:104px;width:260px;height:28px;line-height:28px;font-size:20px;color:#2b3247;letter-spacing:-0.060px;word-spacing:-0.536px;text-align:left;">Busca e Configuração</div>
<svg class="b" style="left:1154.5px;top:110.8px" width="11.4" height="11.4" viewBox="0 0 12 12"><path d="M1.2 1.2 L10.8 10.8 M10.8 1.2 L1.2 10.8" stroke="#2b3247" stroke-width="1.45" fill="none"/></svg>
<div class="t " style="left:881px;top:139px;width:60px;height:18px;line-height:18px;font-size:12px;color:#2e3549;letter-spacing:-0.101px;word-spacing:0.000px;text-align:left;">Selecione</div>
<svg class="b" style="left:936px;top:136px" width="22" height="22" viewBox="936 136 22 22"><circle cx="945.3" cy="145.1" r="4.4" fill="none" stroke="#2b3247" stroke-width="1.5"/><path d="M948.76 148.56 L953.26 153.06" stroke="#2b3247" stroke-width="1.6" fill="none"/></svg>
<div class="t " style="left:959.5px;top:139px;width:225px;height:18px;line-height:18px;font-size:12px;color:#2e3549;letter-spacing:0.021px;word-spacing:-0.379px;text-align:left;">para buscar o ativo desejado atraves do</div>
<div class="t " style="left:881px;top:157px;width:200px;height:18px;line-height:18px;font-size:12px;color:#2e3549;letter-spacing:0.137px;word-spacing:-0.495px;text-align:left;">ticker ou emissor</div>
<div class="t " style="left:881px;top:193px;width:60px;height:18px;line-height:18px;font-size:12px;color:#2e3549;letter-spacing:-0.101px;word-spacing:0.000px;text-align:left;">Selecione</div>
<svg class="b" style="left:935px;top:189px" width="22" height="22" viewBox="935 189 22 22"><path d="M946.00 192.40 L946.29 192.41 L946.59 192.45 L946.87 192.55 L947.13 192.75 L947.36 193.07 L947.54 193.48 L947.69 193.92 L947.81 194.34 L947.94 194.65 L948.10 194.82 L948.34 194.82 L948.65 194.69 L949.03 194.48 L949.45 194.27 L949.87 194.11 L950.25 194.05 L950.58 194.09 L950.86 194.21 L951.09 194.39 L951.30 194.60 L951.51 194.81 L951.69 195.04 L951.81 195.32 L951.85 195.65 L951.79 196.03 L951.63 196.45 L951.42 196.87 L951.21 197.25 L951.08 197.56 L951.08 197.80 L951.25 197.96 L951.56 198.09 L951.98 198.21 L952.42 198.36 L952.83 198.54 L953.15 198.77 L953.35 199.03 L953.45 199.31 L953.49 199.61 L953.50 199.90 L953.49 200.19 L953.45 200.49 L953.35 200.77 L953.15 201.03 L952.83 201.26 L952.42 201.44 L951.98 201.59 L951.56 201.71 L951.25 201.84 L951.08 202.00 L951.08 202.24 L951.21 202.55 L951.42 202.93 L951.63 203.35 L951.79 203.77 L951.85 204.15 L951.81 204.48 L951.69 204.76 L951.51 204.99 L951.30 205.20 L951.09 205.41 L950.86 205.59 L950.58 205.71 L950.25 205.75 L949.87 205.69 L949.45 205.53 L949.03 205.32 L948.65 205.11 L948.34 204.98 L948.10 204.98 L947.94 205.15 L947.81 205.46 L947.69 205.88 L947.54 206.32 L947.36 206.73 L947.13 207.05 L946.87 207.25 L946.59 207.35 L946.29 207.39 L946.00 207.40 L945.71 207.39 L945.41 207.35 L945.13 207.25 L944.87 207.05 L944.64 206.73 L944.46 206.32 L944.31 205.88 L944.19 205.46 L944.06 205.15 L943.90 204.98 L943.66 204.98 L943.35 205.11 L942.97 205.32 L942.55 205.53 L942.13 205.69 L941.75 205.75 L941.42 205.71 L941.14 205.59 L940.91 205.41 L940.70 205.20 L940.49 204.99 L940.31 204.76 L940.19 204.48 L940.15 204.15 L940.21 203.77 L940.37 203.35 L940.58 202.93 L940.79 202.55 L940.92 202.24 L940.92 202.00 L940.75 201.84 L940.44 201.71 L940.02 201.59 L939.58 201.44 L939.17 201.26 L938.85 201.03 L938.65 200.77 L938.55 200.49 L938.51 200.19 L938.50 199.90 L938.51 199.61 L938.55 199.31 L938.65 199.03 L938.85 198.77 L939.17 198.54 L939.58 198.36 L940.02 198.21 L940.44 198.09 L940.75 197.96 L940.92 197.80 L940.92 197.56 L940.79 197.25 L940.58 196.87 L940.37 196.45 L940.21 196.03 L940.15 195.65 L940.19 195.32 L940.31 195.04 L940.49 194.81 L940.70 194.60 L940.91 194.39 L941.14 194.21 L941.42 194.09 L941.75 194.05 L942.13 194.11 L942.55 194.27 L942.97 194.48 L943.35 194.69 L943.66 194.82 L943.90 194.82 L944.06 194.65 L944.19 194.34 L944.31 193.92 L944.46 193.48 L944.64 193.07 L944.87 192.75 L945.13 192.55 L945.41 192.45 L945.71 192.41 Z" fill="none" stroke="#2b3247" stroke-width="1.25" stroke-linejoin="round"/><circle cx="946.0" cy="199.9" r="2.1" fill="none" stroke="#2b3247" stroke-width="1.7"/></svg>
<div class="t " style="left:959.5px;top:193px;width:225px;height:18px;line-height:18px;font-size:12px;color:#2e3549;letter-spacing:0.004px;word-spacing:-0.362px;text-align:left;">para escolher quais colunas deseja ver</div>
<div class="t " style="left:881px;top:211px;width:200px;height:18px;line-height:18px;font-size:12px;color:#2e3549;letter-spacing:0.046px;word-spacing:-0.404px;text-align:left;">em sua tabela</div>
<div class="t " style="left:890px;top:250.5px;width:54px;height:18px;line-height:18px;font-size:10px;color:#2b3247;letter-spacing:-0.098px;word-spacing:0.000px;text-align:center;font-weight:700;text-indent:-0.098px;">Voltar</div>
<div class="t " style="left:995px;top:253.0px;width:40px;height:18px;line-height:18px;font-size:11px;color:#2e3549;letter-spacing:-0.248px;word-spacing:0.000px;text-align:center;text-indent:-0.248px;">5/11</div>
<div class="b" style="left:1080px;top:250px;width:74px;height:18px;background:#2b3247;border-radius:2px;"></div>
<div class="t " style="left:1080px;top:250.5px;width:74px;height:18px;line-height:18px;font-size:10px;color:#ffffff;letter-spacing:-0.353px;word-spacing:0.000px;text-align:center;font-weight:700;text-indent:-0.353px;">Próximo</div>
<div class="b" style="left:3px;top:513px;width:1300px;height:155.6px;background:#10131a;"></div>
<div class="t " style="left:65.5px;top:521px;width:140px;height:24px;line-height:24px;font-size:14px;color:#808183;letter-spacing:-0.787px;word-spacing:0.384px;text-align:left;font-weight:700;">MEUS NEGOCIOS</div>
<div class="b" style="left:24px;top:551px;width:192px;height:2.2px;background:#806309;"></div>
<svg class="b" style="left:1197px;top:522px" width="22" height="22" viewBox="1197 522 22 22"><circle cx="1205.8" cy="530.9" r="4.45" fill="none" stroke="#5b5f6c" stroke-width="1.45"/><path d="M1209.30 534.40 L1214.00 539.10" stroke="#5b5f6c" stroke-width="1.55" fill="none"/></svg>
<svg class="b" style="left:1226px;top:520px" width="24" height="24" viewBox="1226 520 24 24"><path d="M1234.6 527.4 H1231.9 Q1231.2 527.4 1231.2 528.1 V536.9 Q1231.2 537.6 1231.9 537.6 H1242.7 Q1243.4 537.6 1243.4 536.9 V528.1 Q1243.4 527.4 1242.7 527.4 H1240.2" fill="none" stroke="#5b5f6c" stroke-width="1.35"/><path d="M1237.3 526.2 V533.4" stroke="#5b5f6c" stroke-width="1.35" fill="none"/><path d="M1234.7 532.1 H1239.9 L1237.3 534.9 Z" fill="#5b5f6c"/></svg>
<svg class="b" style="left:1258px;top:520px" width="24" height="24" viewBox="1258 520 24 24"><path d="M1262.4 532.4 Q1269.3 521.6 1276.2 532.4 Q1269.3 543.2 1262.4 532.4 Z" fill="none" stroke="#5b5f6c" stroke-width="1.3"/><circle cx="1269.3" cy="532.6" r="2.1" fill="none" stroke="#5b5f6c" stroke-width="1.2"/><path d="M1263.6 524.6 L1277.4 539.4" stroke="#10131a" stroke-width="1.6" fill="none"/><path d="M1262.4 525.4 L1276.2 540.0" stroke="#5b5f6c" stroke-width="1.35" fill="none"/></svg>
<div class="b" style="left:162px;top:553px;width:2px;height:115.6px;background:#0d0f15;"></div>
<div class="b" style="left:277px;top:553px;width:2px;height:115.6px;background:#0d0f15;"></div>
<div class="b" style="left:436px;top:553px;width:2px;height:115.6px;background:#0d0f15;"></div>
<div class="b" style="left:548px;top:553px;width:2px;height:115.6px;background:#0d0f15;"></div>
<div class="b" style="left:684px;top:553px;width:2px;height:115.6px;background:#0d0f15;"></div>
<div class="b" style="left:826px;top:553px;width:2px;height:115.6px;background:#0d0f15;"></div>
<div class="b" style="left:976.5px;top:553px;width:2px;height:115.6px;background:#0d0f15;"></div>
<div class="b" style="left:1112px;top:553px;width:2px;height:115.6px;background:#0d0f15;"></div>
<div class="b" style="left:4px;top:580px;width:1299px;height:2px;background:#0d0f15;"></div>
<div class="b" style="left:4px;top:608px;width:1299px;height:2px;background:#0d0f15;"></div>
<div class="b" style="left:4px;top:638px;width:1299px;height:2px;background:#0d0f15;"></div>
<div class="b" style="left:3px;top:553px;width:1px;height:115.6px;background:#0d0f15;"></div>
<div class="b" style="left:4px;top:553px;width:1299px;height:1px;background:#0d0f15;"></div>
<div class="t " style="left:61.3px;top:555px;width:36.75390625px;height:24px;line-height:24px;font-size:12px;color:#65676c;letter-spacing:0.089px;word-spacing:0.000px;text-align:left;">Ticker</div>
<div class="b" style="left:97.0px;top:565.3px;border-left:3.9px solid transparent;border-right:3.9px solid transparent;border-top:4.1px solid #65676c;width:0;height:0"></div>
<div class="t " style="left:182.8px;top:555px;width:67.7390625px;height:24px;line-height:24px;font-size:12px;color:#65676c;letter-spacing:0.103px;word-spacing:0.000px;text-align:left;">Vencimento</div>
<div class="b" style="left:249.5px;top:565.3px;border-left:3.9px solid transparent;border-right:3.9px solid transparent;border-top:4.1px solid #65676c;width:0;height:0"></div>
<div class="t " style="left:331.3px;top:555px;width:44.7640625px;height:24px;line-height:24px;font-size:12px;color:#65676c;letter-spacing:-0.084px;word-spacing:0.000px;text-align:left;">Direção</div>
<div class="b" style="left:375.0px;top:565.3px;border-left:3.9px solid transparent;border-right:3.9px solid transparent;border-top:4.1px solid #65676c;width:0;height:0"></div>
<div class="t " style="left:479.5px;top:555px;width:29.50625px;height:24px;line-height:24px;font-size:12px;color:#65676c;letter-spacing:0.039px;word-spacing:0.000px;text-align:left;">Taxa</div>
<div class="t " style="left:603.5px;top:555px;width:19.3515625px;height:24px;line-height:24px;font-size:12px;color:#65676c;letter-spacing:-0.659px;word-spacing:0.000px;text-align:left;">PU</div>
<div class="b" style="left:621.8px;top:565.3px;border-left:3.9px solid transparent;border-right:3.9px solid transparent;border-top:4.1px solid #65676c;width:0;height:0"></div>
<div class="t " style="left:722.4px;top:555px;width:59.68828125px;height:24px;line-height:24px;font-size:12px;color:#65676c;letter-spacing:-0.034px;word-spacing:0.000px;text-align:left;">Financeiro</div>
<div class="b" style="left:780.9px;top:565.3px;border-left:3.9px solid transparent;border-right:3.9px solid transparent;border-top:4.1px solid #65676c;width:0;height:0"></div>
<div class="t " style="left:865.8px;top:555px;width:65.296875px;height:24px;line-height:24px;font-size:12px;color:#65676c;letter-spacing:-0.076px;word-spacing:0.000px;text-align:left;">Quantidade</div>
<div class="b" style="left:930.0px;top:565.3px;border-left:3.9px solid transparent;border-right:3.9px solid transparent;border-top:4.1px solid #65676c;width:0;height:0"></div>
<div class="t " style="left:1003.0px;top:555px;width:76.93203125px;height:24px;line-height:24px;font-size:12px;color:#65676c;letter-spacing:0.104px;word-spacing:-0.462px;text-align:left;">Solicitado em</div>
<div class="b" style="left:1078.8px;top:565.3px;border-left:3.9px solid transparent;border-right:3.9px solid transparent;border-top:4.1px solid #65676c;width:0;height:0"></div>
<div class="t " style="left:1185.0px;top:555px;width:38.31328125px;height:24px;line-height:24px;font-size:12px;color:#65676c;letter-spacing:0.049px;word-spacing:0.000px;text-align:left;">Status</div>
<div class="b" style="left:1222.3px;top:565.3px;border-left:3.9px solid transparent;border-right:3.9px solid transparent;border-top:4.1px solid #65676c;width:0;height:0"></div>
<div class="t " style="left:20px;top:583px;width:140px;height:24px;line-height:24px;font-size:12px;color:#7d7e82;letter-spacing:-0.431px;word-spacing:0.000px;text-align:left;">CART12</div>
<div class="t " style="left:163px;top:583px;width:114.4px;height:24px;line-height:24px;font-size:12px;color:#7d7e82;letter-spacing:0.211px;word-spacing:0.000px;text-align:center;text-indent:0.211px;">Nov/2021</div>
<div class="b" style="left:329px;top:590.8px;width:9px;height:9px;background:#1b4415;border-radius:50%;"></div>
<div class="t " style="left:342px;top:583px;width:100px;height:24px;line-height:24px;font-size:12px;color:#7d7e82;letter-spacing:-0.068px;word-spacing:0.000px;text-align:left;">Compra</div>
<div class="t " style="left:437px;top:583px;width:111.4px;height:24px;line-height:24px;font-size:12px;color:#7d7e82;letter-spacing:-0.357px;word-spacing:0.000px;text-align:center;text-indent:-0.357px;">4,8971%</div>
<div class="t " style="left:549px;top:583px;width:135.4px;height:24px;line-height:24px;font-size:12px;color:#7d7e82;letter-spacing:-0.037px;word-spacing:0.000px;text-align:center;text-indent:-0.037px;">1.100,000000</div>
<div class="t " style="left:685px;top:583px;width:141.4px;height:24px;line-height:24px;font-size:12px;color:#7d7e82;letter-spacing:0.167px;word-spacing:-0.525px;text-align:center;text-indent:0.167px;">1.05 MM</div>
<div class="t " style="left:827px;top:583px;width:149.9px;height:24px;line-height:24px;font-size:12px;color:#7d7e82;letter-spacing:0.163px;word-spacing:0.000px;text-align:center;text-indent:0.163px;">110.000</div>
<div class="t " style="left:977.5px;top:583px;width:134.9px;height:24px;line-height:24px;font-size:12px;color:#7d7e82;letter-spacing:0.181px;word-spacing:-0.539px;text-align:center;text-indent:0.181px;">11/08 15:12:45</div>
<div class="b" style="left:1164px;top:590.8px;width:9px;height:9px;background:#1b4415;border-radius:50%;"></div>
<div class="t " style="left:1177px;top:583px;width:100px;height:24px;line-height:24px;font-size:12px;color:#7d7e82;letter-spacing:0.063px;word-spacing:0.000px;text-align:left;">Confirmado</div>
<div class="t " style="left:20px;top:612px;width:140px;height:24px;line-height:24px;font-size:12px;color:#7d7e82;letter-spacing:-0.158px;word-spacing:0.000px;text-align:left;">CRA01800464</div>
<div class="t " style="left:163px;top:612px;width:114.4px;height:24px;line-height:24px;font-size:12px;color:#7d7e82;letter-spacing:0.169px;word-spacing:0.000px;text-align:center;text-indent:0.169px;">Out/2021</div>
<div class="b" style="left:329px;top:619.8px;width:9px;height:9px;background:#1e5680;border-radius:50%;"></div>
<div class="t " style="left:342px;top:612px;width:100px;height:24px;line-height:24px;font-size:12px;color:#7d7e82;letter-spacing:-0.074px;word-spacing:0.000px;text-align:left;">Venda</div>
<div class="t " style="left:437px;top:612px;width:111.4px;height:24px;line-height:24px;font-size:12px;color:#7d7e82;letter-spacing:-0.678px;word-spacing:0.000px;text-align:center;text-indent:-0.678px;">4,4%</div>
<div class="t " style="left:549px;top:612px;width:135.4px;height:24px;line-height:24px;font-size:12px;color:#7d7e82;letter-spacing:-0.037px;word-spacing:0.000px;text-align:center;text-indent:-0.037px;">1.100,000000</div>
<div class="t " style="left:685px;top:612px;width:141.4px;height:24px;line-height:24px;font-size:12px;color:#7d7e82;letter-spacing:-0.680px;word-spacing:0.000px;text-align:center;text-indent:-0.680px;">-</div>
<div class="t " style="left:827px;top:612px;width:149.9px;height:24px;line-height:24px;font-size:12px;color:#7d7e82;letter-spacing:0.163px;word-spacing:0.000px;text-align:center;text-indent:0.163px;">110.000</div>
<div class="t " style="left:977.5px;top:612px;width:134.9px;height:24px;line-height:24px;font-size:12px;color:#7d7e82;letter-spacing:0.113px;word-spacing:-0.470px;text-align:center;text-indent:0.113px;">19/10 15:12:44</div>
<div class="b" style="left:1164px;top:619.8px;width:9px;height:9px;background:#721616;border-radius:50%;"></div>
<div class="t " style="left:1177px;top:612px;width:100px;height:24px;line-height:24px;font-size:12px;color:#7d7e82;letter-spacing:-0.079px;word-spacing:0.000px;text-align:left;">Cancelado</div>
<div class="t " style="left:20px;top:642px;width:140px;height:24px;line-height:24px;font-size:12px;color:#7d7e82;letter-spacing:0.053px;word-spacing:0.000px;text-align:left;">17H0894273</div>
<div class="t " style="left:163px;top:642px;width:114.4px;height:24px;line-height:24px;font-size:12px;color:#7d7e82;letter-spacing:0.094px;word-spacing:0.000px;text-align:center;text-indent:0.094px;">Dez/2021</div>
<div class="b" style="left:329px;top:649.8px;width:9px;height:9px;background:#1b4415;border-radius:50%;"></div>
<div class="t " style="left:342px;top:642px;width:100px;height:24px;line-height:24px;font-size:12px;color:#7d7e82;letter-spacing:-0.068px;word-spacing:0.000px;text-align:left;">Compra</div>
<div class="t " style="left:549px;top:642px;width:135.4px;height:24px;line-height:24px;font-size:12px;color:#7d7e82;letter-spacing:-0.037px;word-spacing:0.000px;text-align:center;text-indent:-0.037px;">1.100,000000</div>
<div class="t " style="left:685px;top:642px;width:141.4px;height:24px;line-height:24px;font-size:12px;color:#7d7e82;letter-spacing:-0.680px;word-spacing:0.000px;text-align:center;text-indent:-0.680px;">-</div>
<div class="t " style="left:827px;top:642px;width:149.9px;height:24px;line-height:24px;font-size:12px;color:#7d7e82;letter-spacing:0.163px;word-spacing:0.000px;text-align:center;text-indent:0.163px;">110.000</div>
<div class="t " style="left:977.5px;top:642px;width:134.9px;height:24px;line-height:24px;font-size:12px;color:#7d7e82;letter-spacing:0.113px;word-spacing:-0.470px;text-align:center;text-indent:0.113px;">16/12 15:12:43</div>
<div class="t " style="left:1113px;top:642px;width:189.4px;height:24px;line-height:24px;font-size:12px;color:#7d7e82;letter-spacing:-0.680px;word-spacing:0.000px;text-align:center;text-indent:-0.680px;">-</div>
<div class="b" style="left:0px;top:0px;width:1px;height:723px;background:#0d0f15;"></div>
<div class="b" style="left:0px;top:722px;width:1440px;height:1px;background:#111318;"></div>
</body></html>
